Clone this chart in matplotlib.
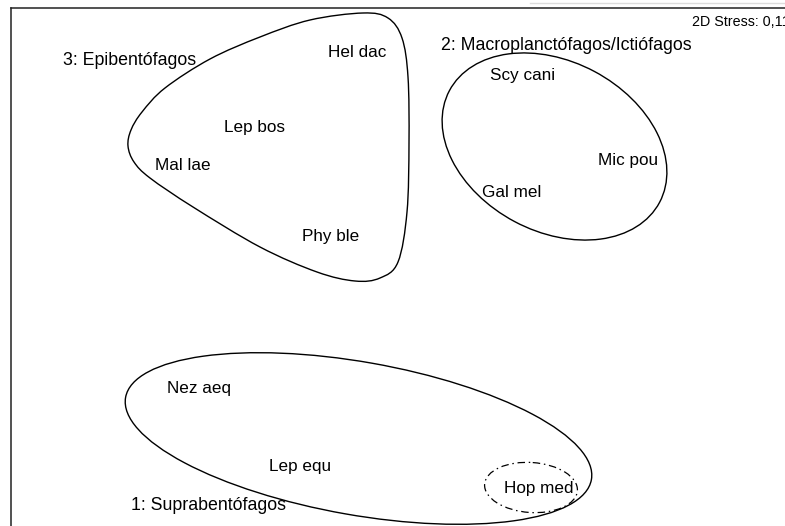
import numpy as np
import matplotlib
matplotlib.use("Agg")
import matplotlib.pyplot as plt
from matplotlib.patches import Ellipse, PathPatch
from matplotlib.path import Path
from matplotlib.lines import Line2D

plt.rcParams['font.family'] = ['Liberation Sans', 'DejaVu Sans']

# MDS ordination (plot units, y grows downward)
species = ["Hel dac", "Lep bos", "Mal lae", "Phy ble",
           "Scy cani", "Mic pou", "Gal mel",
           "Nez aeq", "Lep equ", "Hop med"]
sp_x = [357, 255, 183, 331, 523, 628, 512, 199, 300, 539]
sp_y = [52, 127, 165, 236, 75, 160, 192, 388, 467, 488]

groups = ["3: Epibentófagos", "2: Macroplanctófagos/Ictiófagos", "1: Suprabentófagos"]
group_x = [63, 441, 131]
group_y = [60, 45, 506]

# group envelopes: ellipses (cx, cy, width, height, angle)
ell_cx = [554.5, 358.5]
ell_cy = [146.5, 438.5]
ell_w = [238, 473]
ell_h = [170, 153]
ell_ang = [28, 10]

# dashed sub-group around Hop med
sub_cx, sub_cy, sub_w, sub_h, sub_ang = 531, 487.5, 93, 50, 4

# outline of group 3 (points on the hull)
blob_x = [363, 388, 402, 408, 409, 407, 398, 380, 355, 317, 260, 193,
          150, 134, 128, 131, 142, 165, 210, 260, 310]
blob_y = [13, 18, 38, 77, 143, 212, 262, 278, 281, 272, 247, 207,
          178, 162, 146, 130, 112, 88, 59, 37, 20]

stress = "2D Stress: 0,11"

fig = plt.figure(figsize=(7.85, 5.26), dpi=100)
W, H = 785, 526
x0, x1, y0, y1 = 11, 800, 8, 545
ax = fig.add_axes([x0 / W, (H - y1) / H, (x1 - x0) / W, (y1 - y0) / H])
ax.set_xlim(x0, x1)
ax.set_ylim(y1, y0)
ax.set_xticks([])
ax.set_yticks([])
for s in ["right", "bottom"]:
    ax.spines[s].set_visible(False)
for s in ["left", "top"]:
    ax.spines[s].set_linewidth(1.1)
    ax.spines[s].set_color("#222222")

for cx, cy, w, h, a in zip(ell_cx, ell_cy, ell_w, ell_h, ell_ang):
    ax.add_patch(Ellipse((cx, cy), w, h, angle=a, fill=False,
                         edgecolor="black", lw=1.0))
ax.add_patch(Ellipse((sub_cx, sub_cy), sub_w, sub_h, angle=sub_ang, fill=False,
                     edgecolor="black", lw=0.9, linestyle=(0, (6, 3, 1.2, 3))))

# smooth closed hull through the outline points
P = np.column_stack([blob_x, blob_y]).astype(float)
n = len(P)
verts = [P[0]]
codes = [Path.MOVETO]
for i in range(n):
    p0, p1, p2, p3 = P[i - 1], P[i], P[(i + 1) % n], P[(i + 2) % n]
    verts += [p1 + (p2 - p0) / 6, p2 - (p3 - p1) / 6, p2]
    codes += [Path.CURVE4] * 3
ax.add_patch(PathPatch(Path(verts, codes), fill=False, edgecolor="black", lw=1.0))

for name, x, y in zip(species, sp_x, sp_y):
    ax.text(x, y, name, fontsize=12.3, ha="center", va="center")
for name, x, y in zip(groups, group_x, group_y):
    ax.text(x, y, name, fontsize=12.8, ha="left", va="center")

ax.text(692, 22, stress, fontsize=10.3, ha="left", va="center")

fig.add_artist(Line2D([530 / W, 1], [1 - 3 / H, 1 - 3 / H], color="#dddddd", lw=1.0))

fig.savefig("out.png", dpi=100)
